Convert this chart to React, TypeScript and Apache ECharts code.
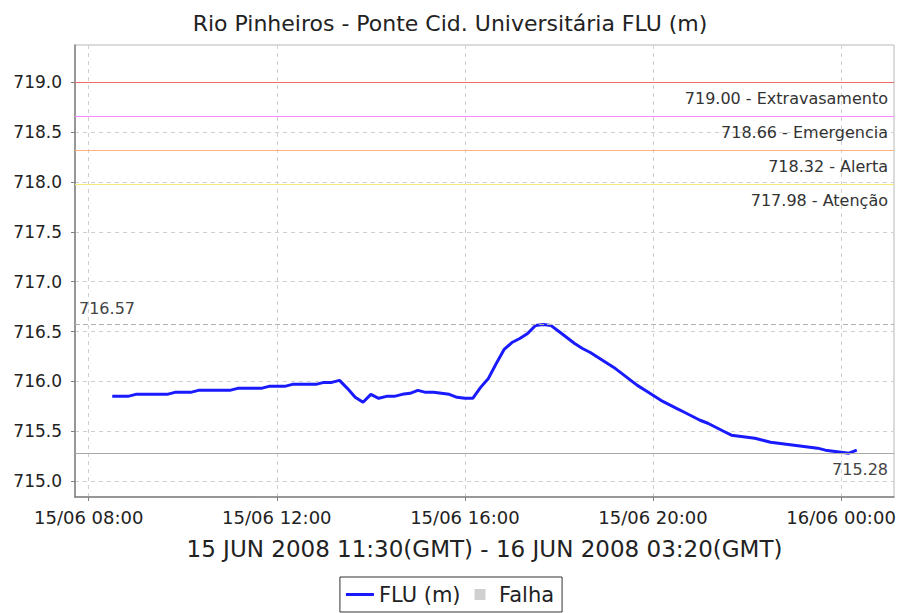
import React, { useEffect, useRef } from "react";
import * as echarts from "echarts";

const TITLE = "Rio Pinheiros - Ponte Cid. Universitária FLU (m)";
const X_AXIS_NAME = "15 JUN 2008 11:30(GMT) - 16 JUN 2008 03:20(GMT)";
const SERIES_NAME = "FLU (m)";
const FAIL_NAME = "Falha";

// sampling grid: first reading 15/06 08:30 (local), one reading every 10 minutes
const START_MINUTE = 510;
const STEP_MINUTES = 10;

const fluValues = [
  715.85, 715.85, 715.85, 715.87, 715.87, 715.87, 715.87, 715.87, 715.89, 715.89,
  715.89, 715.91, 715.91, 715.91, 715.91, 715.91, 715.93, 715.93, 715.93, 715.93,
  715.95, 715.95, 715.95, 715.97, 715.97, 715.97, 715.97, 715.99, 715.99, 716.01,
  715.93, 715.84, 715.79, 715.87, 715.83, 715.85, 715.85, 715.87, 715.88, 715.91,
  715.89, 715.89, 715.88, 715.87, 715.84, 715.83, 715.83, 715.94, 716.03, 716.18,
  716.32, 716.39, 716.43, 716.48, 716.56, 716.57, 716.56, 716.5, 716.44, 716.38,
  716.33, 716.29, 716.24, 716.19, 716.14, 716.08, 716.02, 715.96, 715.91, 715.86,
  715.81, 715.77, 715.73, 715.69, 715.65, 715.61, 715.58, 715.54, 715.5, 715.46,
  715.45, 715.44, 715.43, 715.41, 715.39, 715.38, 715.37, 715.36, 715.35, 715.34,
  715.33, 715.31, 715.3, 715.29, 715.28, 715.31,
];

const yTicks = [715.0, 715.5, 716.0, 716.5, 717.0, 717.5, 718.0, 718.5, 719.0];
const xTicks = [480, 720, 960, 1200, 1440]; // minutes from 15/06 00:00

const thresholdValues = [719.0, 718.66, 718.32, 717.98];
const thresholdNames = ["Extravasamento", "Emergencia", "Alerta", "Atenção"];
const maxValue = 716.57;
const minValue = 715.28;

const Y_MIN = 714.84;
const Y_MAX = 719.375;
const X_MIN = 462.5;
const X_MAX = 1507.5;

const THRESHOLD_COLORS = ["#f26b6b", "#ff88ff", "#ffb27a", "#f3ea7a"];
const FONT = "DejaVu Sans";

function fmtTime(v: number): string {
  const day = v >= 1440 ? "16/06" : "15/06";
  const m = ((v % 1440) + 1440) % 1440;
  const hh = String(Math.floor(m / 60)).padStart(2, "0");
  const mm = String(Math.round(m % 60)).padStart(2, "0");
  return `${day} ${hh}:${mm}`;
}

export default function App() {
  const ref = useRef<HTMLDivElement>(null);

  useEffect(() => {
    document.body.style.margin = "0";
    if (!ref.current) return;
    const chart = echarts.init(ref.current, undefined, { renderer: "svg" });

    const data = fluValues.map((v, i) => [START_MINUTE + i * STEP_MINUTES, v]);

    const thresholdLines = thresholdValues.map((v, i) => ({
      yAxis: v,
      lineStyle: { color: THRESHOLD_COLORS[i], type: "solid", width: 1.2 },
      label: {
        show: true,
        position: "insideEndBottom",
        formatter: `${v.toFixed(2)} - ${thresholdNames[i]}`,
        color: "#333",
        fontFamily: FONT,
        fontSize: 16,
        distance: [6, 8],
      },
    }));

    const option: any = {
      animation: false,
      backgroundColor: "#ffffff",
      title: {
        text: TITLE,
        left: "center",
        top: 7,
        textStyle: { fontFamily: FONT, fontSize: 22, fontWeight: "normal", color: "#222" },
      },
      legend: {
        bottom: 1,
        left: "center",
        orient: "horizontal",
        borderColor: "#333",
        borderWidth: 1,
        borderRadius: 0,
        padding: [7, 8, 7, 6],
        itemGap: 14,
        itemWidth: 28,
        itemHeight: 11,
        textStyle: { fontFamily: FONT, fontSize: 21, color: "#222" },
        data: [
          { name: SERIES_NAME, icon: "path://M0 0H28V3H0Z" },
          { name: FAIL_NAME, icon: "path://M0 0H10V10H0Z" },
        ],
      },
      grid: {
        left: 75,
        right: 6,
        top: 45,
        bottom: 116,
        show: true,
        borderColor: "#b8b8b8",
        borderWidth: 1,
        backgroundColor: "#ffffff",
      },
      xAxis: {
        type: "value",
        min: X_MIN,
        max: X_MAX,
        name: X_AXIS_NAME,
        nameLocation: "middle",
        nameGap: 40,
        nameTextStyle: { fontFamily: FONT, fontSize: 23, color: "#222" },
        axisLine: { show: true, onZero: false, lineStyle: { color: "#808080", width: 1.5 } },
        axisTick: { show: true, length: 4, customValues: xTicks, lineStyle: { color: "#808080" } },
        axisLabel: {
          customValues: xTicks,
          formatter: (v: number) => fmtTime(v),
          fontFamily: FONT,
          fontSize: 18,
          color: "#222",
          margin: 11,
        },
        splitLine: { show: true, lineStyle: { color: "#d0d0d0", type: [4, 4], width: 1 } },
      },
      yAxis: {
        type: "value",
        min: Y_MIN,
        max: Y_MAX,
        axisLine: { show: true, onZero: false, lineStyle: { color: "#808080", width: 1.5 } },
        axisTick: { show: true, length: 4, customValues: yTicks, lineStyle: { color: "#808080" } },
        axisLabel: {
          customValues: yTicks,
          formatter: (v: number) => v.toFixed(1),
          fontFamily: FONT,
          fontSize: 17,
          color: "#222",
          margin: 13,
        },
        splitLine: { show: true, lineStyle: { color: "#d0d0d0", type: [4, 4], width: 1 } },
      },
      series: [
        {
          name: SERIES_NAME,
          type: "line",
          data,
          symbol: "none",
          color: "#1a1aff",
          lineStyle: { color: "#1a1aff", width: 3 },
          markLine: {
            silent: true,
            symbol: "none",
            animation: false,
            data: [
              ...thresholdLines,
              {
                yAxis: maxValue,
                lineStyle: { color: "#b0b0b0", type: [5, 3], width: 1 },
                label: {
                  show: true,
                  position: "insideStartTop",
                  formatter: maxValue.toFixed(2),
                  color: "#444",
                  fontFamily: FONT,
                  fontSize: 16,
                  distance: [4, 8],
                },
              },
              {
                yAxis: minValue,
                lineStyle: { color: "#a8a8a8", type: "solid", width: 1 },
                label: {
                  show: true,
                  position: "insideEndBottom",
                  formatter: minValue.toFixed(2),
                  color: "#444",
                  fontFamily: FONT,
                  fontSize: 16,
                  distance: [6, 8],
                },
              },
            ],
          },
        },
        {
          name: FAIL_NAME,
          type: "scatter",
          data: [],
          color: "#c4c4c4",
          symbol: "rect",
        },
      ],
    };

    chart.setOption(option);
    return () => chart.dispose();
  }, []);

  return <div ref={ref} style={{ width: 900, height: 613 }} />;
}
